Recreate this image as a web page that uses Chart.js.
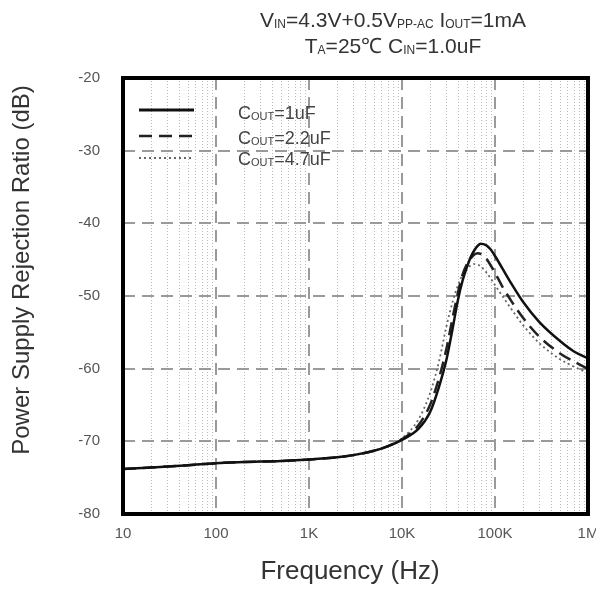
<!DOCTYPE html>
<html>
<head>
<meta charset="utf-8">
<script src="https://cdn.jsdelivr.net/npm/chart.js@4.4.0/dist/chart.umd.min.js"></script>
<style>
  body { margin: 0; background: #fff; }
  #wrap { width: 596px; height: 591px; }
</style>
</head>
<body>
<div id="wrap"><canvas id="psrr" width="596" height="591"></canvas></div>
<script>
// frequency points (Hz)
const freqs = [10, 20, 50, 100, 200, 500, 1000, 2000, 3000, 5000, 7000, 10000,
  15000, 20000, 25000, 30000, 35000, 40000, 45000, 50000,
  55000, 60000, 65000, 70000, 80000, 90000, 100000,
  120000, 150000, 200000, 300000, 500000, 700000, 1000000];

// PSRR (dB) per output capacitor
const cout1u = [-73.8, -73.6, -73.3, -73.0, -72.85, -72.7, -72.5, -72.2, -71.9, -71.3, -70.7, -69.8,
  -68.3, -66.0, -62.5, -58.8, -54.5, -50.5, -47.8, -46.0,
  -44.6, -43.7, -43.1, -42.8, -43.0, -43.6, -44.5,
  -46.2, -48.3, -50.8, -53.6, -56.2, -57.6, -58.6];
const cout22u = [-73.8, -73.6, -73.3, -73.0, -72.85, -72.7, -72.5, -72.2, -71.9, -71.3, -70.7, -69.7,
  -67.8, -65.0, -61.3, -57.3, -53.0, -49.5, -47.0, -45.6,
  -44.8, -44.3, -44.1, -44.2, -44.8, -45.8, -46.8,
  -48.7, -50.7, -53.0, -55.6, -57.9, -59.0, -60.0];
const cout47u = [-73.8, -73.6, -73.3, -73.0, -72.85, -72.7, -72.5, -72.2, -71.9, -71.3, -70.6, -69.6,
  -67.0, -63.4, -59.0, -54.2, -50.8, -48.5, -47.0, -46.2,
  -45.8, -45.6, -45.7, -45.9, -46.7, -47.6, -48.5,
  -50.0, -51.8, -54.0, -56.5, -58.7, -59.7, -60.6];

const xTicks = [10, 100, 1000, 10000, 100000, 1000000];
const xTickLabels = ['10', '100', '1K', '10K', '100K', '1M'];
const legendNames = [['C', 'OUT', '=1uF'], ['C', 'OUT', '=2.2uF'], ['C', 'OUT', '=4.7uF']];

const FONT = '"Liberation Sans", Arial, sans-serif';

function toPoints(ys) {
  return freqs.map((f, i) => ({ x: f, y: ys[i] }));
}

// draw text made of [text, isSub] parts, centred or left aligned
function drawRich(ctx, parts, x, y, size, subSize, align) {
  let total = 0;
  parts.forEach(p => {
    ctx.font = (p[1] ? subSize : size) + 'px ' + FONT;
    total += ctx.measureText(p[0]).width;
  });
  let cx = align === 'center' ? x - total / 2 : x;
  ctx.textAlign = 'left';
  ctx.textBaseline = 'alphabetic';
  parts.forEach(p => {
    ctx.font = (p[1] ? subSize : size) + 'px ' + FONT;
    ctx.fillText(p[0], cx, p[1] ? y + 1 : y);
    cx += ctx.measureText(p[0]).width;
  });
}

const decor = {
  id: 'decor',
  beforeDatasetsDraw(chart) {
    const ctx = chart.ctx;
    const a = chart.chartArea;
    const xs = chart.scales.x, ys = chart.scales.y;
    ctx.save();
    // minor vertical dotted grid
    ctx.strokeStyle = '#bbb';
    ctx.lineWidth = 1;
    ctx.setLineDash([1, 2]);
    for (let d = 10; d < 1000000; d *= 10) {
      for (let k = 2; k <= 9; k++) {
        const px = Math.round(xs.getPixelForValue(d * k)) + 0.5;
        ctx.beginPath();
        ctx.moveTo(px, a.top);
        ctx.lineTo(px, a.bottom);
        ctx.stroke();
      }
    }
    // major dashed grid
    ctx.strokeStyle = '#9a9a9a';
    ctx.lineWidth = 2;
    ctx.setLineDash([12, 7]);
    xTicks.slice(1, -1).forEach(v => {
      const px = Math.round(xs.getPixelForValue(v));
      ctx.beginPath();
      ctx.moveTo(px, a.top);
      ctx.lineTo(px, a.bottom);
      ctx.stroke();
    });
    for (let v = -70; v <= -30; v += 10) {
      const py = Math.round(ys.getPixelForValue(v));
      ctx.beginPath();
      ctx.moveTo(a.left, py);
      ctx.lineTo(a.right, py);
      ctx.stroke();
    }
    ctx.restore();
  },
  afterDraw(chart) {
    const ctx = chart.ctx;
    const a = chart.chartArea;
    ctx.save();
    // frame
    ctx.strokeStyle = '#000';
    ctx.lineWidth = 4;
    ctx.setLineDash([]);
    ctx.strokeRect(a.left, a.top, a.right - a.left, a.bottom - a.top);

    // title
    ctx.fillStyle = '#333';
    drawRich(ctx, [['V'], ['IN', 1], ['=4.3V+0.5V'], ['PP-AC', 1], [' I'], ['OUT', 1], ['=1mA']], 393, 27, 21, 12, 'center');
    drawRich(ctx, [['T'], ['A', 1], ['=25\u2103 C'], ['IN', 1], ['=1.0uF']], 393, 53, 21, 12, 'center');

    // axis titles
    ctx.fillStyle = '#333';
    ctx.textAlign = 'center';
    ctx.textBaseline = 'middle';
    ctx.font = '26px ' + FONT;
    ctx.fillText('Frequency (Hz)', 350, 572);
    ctx.save();
    ctx.translate(22, 270);
    ctx.rotate(-Math.PI / 2);
    ctx.font = '24px ' + FONT;
    ctx.fillText('Power Supply Rejection Ratio (dB)', 0, 0);
    ctx.restore();

    // legend
    const rows = [110, 136, 158];
    const textBase = [119, 144, 165];
    chart.data.datasets.forEach((ds, i) => {
      ctx.strokeStyle = ds.borderColor;
      ctx.lineWidth = i === 0 ? 3 : ds.borderWidth;
      ctx.setLineDash(ds.borderDash || []);
      ctx.beginPath();
      ctx.moveTo(139, rows[i]);
      ctx.lineTo(194, rows[i]);
      ctx.stroke();
      const n = legendNames[i];
      ctx.fillStyle = '#444';
      drawRich(ctx, [[n[0]], [n[1], 1], [n[2]]], 238, textBase[i], 18, 11, 'left');
    });
    ctx.restore();
  }
};

new Chart(document.getElementById('psrr'), {
  type: 'scatter',
  data: {
    datasets: [
      { label: 'COUT=1uF', data: toPoints(cout1u), borderColor: '#111', borderWidth: 2.5, borderDash: [] },
      { label: 'COUT=2.2uF', data: toPoints(cout22u), borderColor: '#222', borderWidth: 2.5, borderDash: [13, 7] },
      { label: 'COUT=4.7uF', data: toPoints(cout47u), borderColor: '#666', borderWidth: 1.8, borderDash: [2, 3] }
    ].map(ds => Object.assign(ds, { showLine: true, pointRadius: 0, cubicInterpolationMode: 'monotone', fill: false }))
  },
  options: {
    responsive: false,
    animation: false,
    layout: { padding: { top: 78, right: 8, left: 0, bottom: 0 } },
    plugins: { legend: { display: false }, tooltip: { enabled: false } },
    scales: {
      x: {
        type: 'logarithmic',
        min: 10, max: 1000000,
        afterBuildTicks: s => { s.ticks = xTicks.map(v => ({ value: v })); },
        afterFit: s => { s.height = 77; s.paddingLeft = 0; s.paddingRight = 0; },
        grid: { display: false },
        border: { display: false },
        ticks: {
          autoSkip: false, maxRotation: 0, padding: 3,
          color: '#555', font: { family: FONT, size: 15 },
          callback: v => xTickLabels[xTicks.indexOf(v)] || ''
        }
      },
      y: {
        min: -80, max: -20,
        afterFit: s => { s.width = 123; s.paddingTop = 0; s.paddingBottom = 0; },
        grid: { display: false },
        border: { display: false },
        ticks: { stepSize: 10, padding: 15, color: '#555', font: { family: FONT, size: 15 } }
      }
    }
  },
  plugins: [decor]
});
</script>
</body>
</html>
